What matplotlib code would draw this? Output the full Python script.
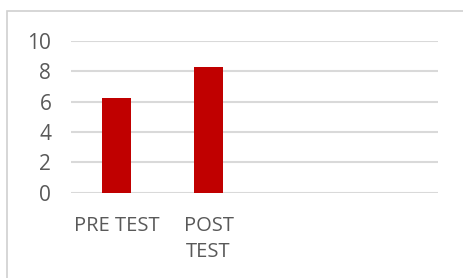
import matplotlib
matplotlib.use("Agg")
from matplotlib import pyplot as plt
from matplotlib.patches import Rectangle

categories = ["PRE TEST", "POST\nTEST", "", ""]
scores = [6.25, 8.27, 0, 0]
y_ticks = [0, 2, 4, 6, 8, 10]

BAR_COLOR = "#c00000"
GRID_COLOR = "#d9d9d9"
TEXT_COLOR = "#595959"

plt.rcParams["font.family"] = ["Open Sans", "DejaVu Sans"]

fig = plt.figure(figsize=(4.63, 2.78), dpi=100)
ax = fig.add_axes([0.1527, 0.3068, 0.794, 0.5468])

# chart frame, cut off at right and bottom like the screenshot
fig.patches.append(Rectangle(
    (7 / 463, -0.1), 1.2, 1 - 11 / 278 + 0.1,
    transform=fig.transFigure, fill=False,
    edgecolor="#d0d0d0", linewidth=1.2
))

x = range(len(categories))
ax.bar(x, scores, width=0.31, color=BAR_COLOR, zorder=3)

ax.set_xlim(-0.5, len(categories) - 0.5)
ax.set_ylim(0, 10)
ax.set_yticks(y_ticks)
ax.set_xticks(list(x))
ax.set_xticklabels(categories, linespacing=1.4)

for y in y_ticks:
    ax.axhline(y, color=GRID_COLOR, linewidth=1.5, zorder=1)

for side in ["top", "right", "left", "bottom"]:
    ax.spines[side].set_visible(False)

ax.tick_params(axis="y", length=0, pad=14, labelsize=15, labelcolor=TEXT_COLOR)
ax.tick_params(axis="x", length=0, pad=17, labelsize=14.5, labelcolor=TEXT_COLOR)

plt.savefig("out.png", dpi=100)
plt.close(fig)
